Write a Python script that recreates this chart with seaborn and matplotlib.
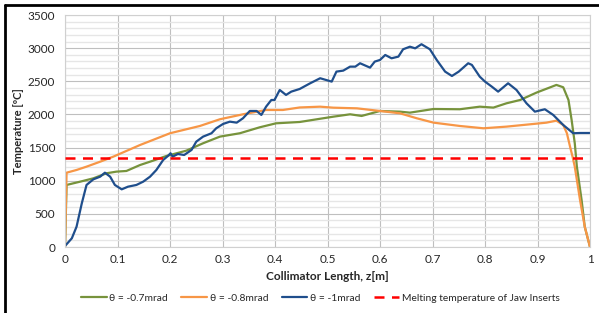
import numpy as np
import pandas as pd
import matplotlib
matplotlib.use('Agg')
import matplotlib.pyplot as plt
from matplotlib.lines import Line2D
from matplotlib.ticker import MultipleLocator
import seaborn as sns

# --- data ---
z_07 = [0, 0.003, 0.029, 0.054, 0.079, 0.098, 0.117, 0.143, 0.168, 0.193,
        0.231, 0.263, 0.295, 0.333, 0.371, 0.402, 0.447, 0.511, 0.543, 0.565,
        0.600, 0.638, 0.657, 0.702, 0.752, 0.790, 0.816, 0.841, 0.867, 0.898,
        0.936, 0.949, 0.959, 0.965, 0.971, 0.975, 0.984, 0.990, 1.0]
T_07 = [0, 936, 986, 1036, 1112, 1137, 1147, 1237, 1303, 1373,
        1453, 1565, 1665, 1716, 1806, 1866, 1886, 1966, 2002, 1977,
        2052, 2042, 2027, 2082, 2078, 2117, 2103, 2168, 2218, 2329,
        2445, 2410, 2218, 1916, 1565, 1212, 709, 306, 0]

z_08 = [0, 0.003, 0.022, 0.041, 0.067, 0.092, 0.143, 0.200, 0.257, 0.295,
        0.339, 0.383, 0.415, 0.447, 0.486, 0.511, 0.556, 0.600, 0.638, 0.670,
        0.702, 0.752, 0.797, 0.841, 0.892, 0.917, 0.936, 0.949, 0.956, 0.962,
        0.967, 0.971, 0.981, 0.990, 1.0]
T_08 = [0, 1121, 1162, 1212, 1287, 1363, 1539, 1716, 1826, 1927,
        2002, 2067, 2067, 2105, 2117, 2102, 2092, 2052, 2017, 1942,
        1876, 1826, 1791, 1816, 1856, 1876, 1906, 1841, 1716, 1514,
        1355, 1212, 709, 306, 0]

z_10 = [0, 0.013, 0.022, 0.032, 0.041, 0.054, 0.067, 0.076, 0.086, 0.095,
        0.108, 0.120, 0.136, 0.149, 0.162, 0.174, 0.187, 0.196, 0.201, 0.205,
        0.215, 0.227, 0.241, 0.250, 0.263, 0.279, 0.288, 0.301, 0.314, 0.327,
        0.339, 0.352, 0.365, 0.374, 0.383, 0.393, 0.399, 0.409, 0.421, 0.431,
        0.447, 0.467, 0.486, 0.508, 0.517, 0.530, 0.543, 0.553, 0.562, 0.581,
        0.590, 0.600, 0.610, 0.622, 0.635, 0.644, 0.657, 0.667, 0.679, 0.695,
        0.708, 0.724, 0.737, 0.750, 0.768, 0.775, 0.790, 0.800, 0.813, 0.825,
        0.844, 0.860, 0.879, 0.895, 0.914, 0.930, 0.949, 0.968, 0.981, 1.0]
T_10 = [15, 131, 306, 659, 936, 1021, 1061, 1121, 1061, 936,
        870, 910, 936, 986, 1061, 1162, 1313, 1373, 1414, 1363,
        1403, 1388, 1464, 1589, 1665, 1716, 1791, 1856, 1891, 1876,
        1942, 2052, 2052, 1992, 2117, 2218, 2218, 2369, 2294, 2344,
        2384, 2470, 2546, 2495, 2646, 2661, 2721, 2721, 2772, 2706,
        2797, 2822, 2897, 2847, 2872, 2983, 3022, 2997, 3059, 2983,
        2822, 2646, 2580, 2646, 2772, 2747, 2570, 2495, 2419, 2344,
        2470, 2369, 2168, 2042, 2078, 1992, 1841, 1716, 1720, 1720]

series_names = ['θ = -0.7mrad', 'θ = -0.8mrad', 'θ = -1mrad']
melt_label = 'Melting temperature of Jaw Inserts'
melt_temp = 1350

palette = {series_names[0]: '#77933C',
           series_names[1]: '#F79646',
           series_names[2]: '#1F4E8C'}

df = pd.concat([
    pd.DataFrame({'z': z_07, 'T': T_07, 'case': series_names[0]}),
    pd.DataFrame({'z': z_08, 'T': T_08, 'case': series_names[1]}),
    pd.DataFrame({'z': z_10, 'T': T_10, 'case': series_names[2]}),
])

# --- style ---
sns.set_style('white')
plt.rcParams['font.family'] = ['Lato', 'DejaVu Sans']
fs = 8.5

fig = plt.figure(figsize=(5.99, 3.13), dpi=100)
ax = fig.add_axes([65 / 599, 1 - 247 / 313, 525 / 599, 232 / 313])

sns.lineplot(data=df, x='z', y='T', hue='case', palette=palette,
             hue_order=series_names, lw=1.6, ax=ax, legend=False, sort=True)
ax.axhline(melt_temp, color='#FF0000', ls=(0, (4, 3)), lw=1.8, zorder=3)

ax.set_xlim(0, 1)
ax.set_ylim(0, 3500)
ax.yaxis.set_major_locator(MultipleLocator(500))
ax.yaxis.set_minor_locator(MultipleLocator(100))
ax.set_xticks(np.arange(0, 1.01, 0.1))
ax.set_xticklabels(['0'] + [f'{v:.1f}' for v in np.arange(0.1, 0.95, 0.1)] + ['1'])

ax.grid(which='major', color='#bfbfbf', lw=0.8)
ax.grid(which='minor', axis='y', color='#e6e6e6', lw=1.0)
ax.set_axisbelow(True)
for s in ax.spines.values():
    s.set_color('#d0d0d0')
    s.set_linewidth(0.8)
ax.tick_params(axis='y', which='major', length=3, color='#bfbfbf', pad=4, labelsize=fs, labelcolor='#262626')
ax.tick_params(axis='y', which='minor', length=0)
ax.tick_params(axis='x', length=0, pad=5, labelsize=fs, labelcolor='#262626')

ax.set_xlabel('Collimator Length, z[m]', fontweight='bold', fontsize=fs, labelpad=4)
ax.set_ylabel('Temperature [ºC]', fontweight='bold', fontsize=8, labelpad=3)

handles = [Line2D([], [], color=palette[n], lw=1.6) for n in series_names]
handles.append(Line2D([], [], color='#FF0000', ls=(0, (4, 3)), lw=1.8))
fig.legend(handles, series_names + [melt_label], loc='center',
           bbox_to_anchor=(0.535, 1 - 298 / 313), ncol=4, frameon=False,
           fontsize=7.4, handlelength=2.5, handletextpad=0.25, columnspacing=1.3)

# frame of the chart area (top and left edges visible in the crop)
fig.add_artist(Line2D([5 / 599, 5 / 599], [0, 1 - 5 / 313], color='black', lw=2, transform=fig.transFigure))
fig.add_artist(Line2D([5 / 599, 1], [1 - 5 / 313, 1 - 5 / 313], color='black', lw=2, transform=fig.transFigure))

fig.savefig('out.png', dpi=100)
